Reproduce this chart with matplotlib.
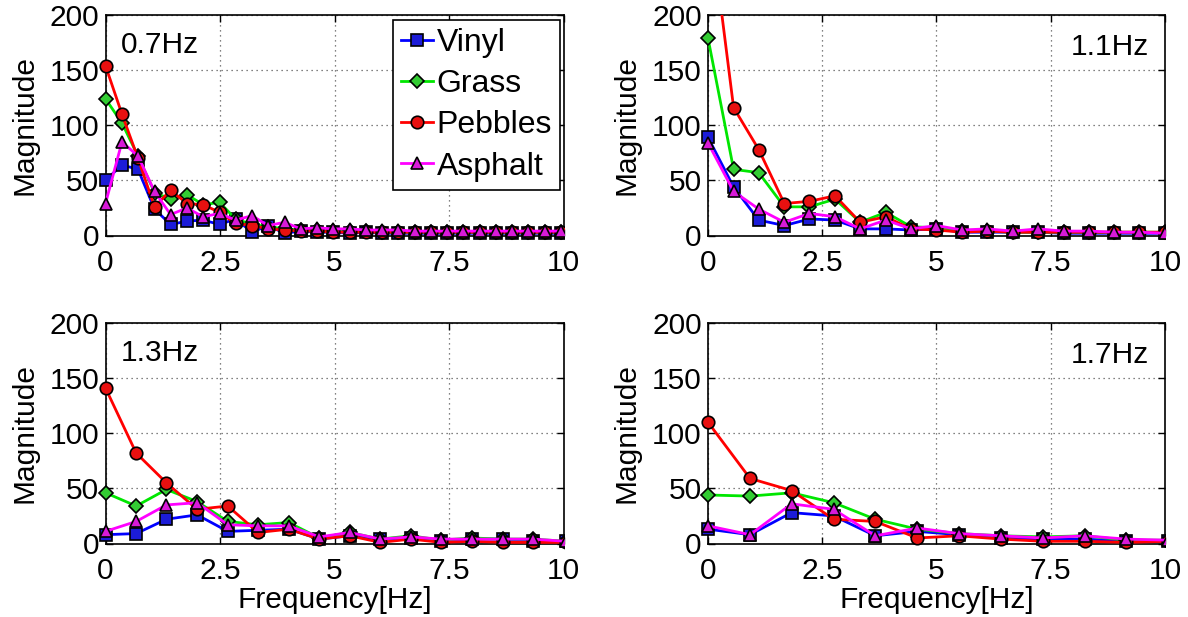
import matplotlib
matplotlib.use("Agg")
import matplotlib.pyplot as plt
from matplotlib.transforms import Bbox, TransformedBbox

plt.rcParams['font.family'] = ['Liberation Sans', 'DejaVu Sans']

series_names = ["Vinyl", "Grass", "Pebbles", "Asphalt"]
panel_titles = ["0.7Hz", "1.1Hz", "1.3Hz", "1.7Hz"]
x_ticks = [0, 2.5, 5, 7.5, 10]
x_tick_labels = ["0", "2.5", "5", "7.5", "10"]
y_ticks = [0, 50, 100, 150, 200]

# Panel 1: 0.7Hz
freq_07 = [0.0, 0.36, 0.71, 1.07, 1.42, 1.78, 2.13, 2.49, 2.84, 3.2, 3.55, 3.91, 4.26,
           4.62, 4.97, 5.33, 5.68, 6.04, 6.39, 6.75, 7.1, 7.46, 7.81, 8.17, 8.52, 8.88,
           9.23, 9.59, 9.94]
vinyl_07 = [50, 64, 60, 24, 10, 13, 14, 10, 15, 3, 9, 2, 4, 3, 3, 2, 3, 2, 2, 2, 2, 2, 2, 2, 2, 2, 2, 2, 2]
grass_07 = [124, 102, 72, 39, 33, 37, 28, 30, 15, 10, 8, 6, 5, 5, 4, 4, 4, 3, 3, 3, 3, 3, 3, 3, 3, 3, 3, 3, 3]
pebbles_07 = [154, 110, 70, 26, 41, 29, 28, 21, 11, 9, 6, 5, 4, 4, 3, 3, 3, 3, 3, 3, 3, 3, 3, 3, 3, 3, 3, 3, 3]
asphalt_07 = [29, 85, 72, 40, 19, 25, 17, 20, 14, 18, 9, 12, 6, 7, 6, 6, 5, 5, 5, 4, 4, 4, 4, 4, 4, 4, 4, 4, 4]

# Panel 2: 1.1Hz
freq_11 = [0.0, 0.56, 1.11, 1.67, 2.22, 2.78, 3.33, 3.89, 4.44, 5.0, 5.56, 6.11, 6.67,
           7.22, 7.78, 8.33, 8.89, 9.44, 10.0]
vinyl_11 = [89, 44, 14, 9, 15, 14, 6, 6, 5, 6, 3, 3, 3, 3, 2, 2, 2, 2, 2]
grass_11 = [179, 60, 57, 26, 26, 33, 12, 21, 8, 7, 4, 4, 3, 3, 3, 3, 3, 3, 3]
pebbles_11 = [300, 116, 78, 29, 31, 36, 12, 17, 6, 5, 3, 4, 3, 3, 3, 3, 3, 3, 3]
asphalt_11 = [84, 40, 24, 12, 20, 17, 6, 14, 6, 9, 5, 6, 4, 6, 4, 4, 3, 3, 2]

# Panel 3: 1.3Hz
freq_13 = [0.0, 0.67, 1.33, 2.0, 2.67, 3.33, 4.0, 4.67, 5.33, 6.0, 6.67, 7.33, 8.0,
           8.67, 9.33, 10.05]
vinyl_13 = [8, 9, 22, 26, 11, 12, 13, 4, 7, 4, 5, 2, 4, 4, 2, 2]
grass_13 = [46, 34, 49, 38, 20, 17, 19, 5, 10, 4, 7, 3, 5, 4, 4, 2]
pebbles_13 = [141, 82, 55, 31, 34, 10, 13, 4, 7, 1, 4, 1, 2, 1, 1, 1]
asphalt_13 = [11, 20, 35, 37, 17, 16, 16, 6, 10, 4, 6, 4, 4, 4, 4, 2]

# Panel 4: 1.7Hz
freq_17 = [0.0, 0.92, 1.83, 2.75, 3.66, 4.58, 5.49, 6.41, 7.32, 8.24, 9.15, 10.07]
vinyl_17 = [13, 8, 28, 25, 7, 11, 8, 5, 4, 4, 2, 2]
grass_17 = [44, 43, 46, 37, 22, 13, 9, 7, 6, 7, 3, 3]
pebbles_17 = [110, 59, 48, 22, 20, 5, 7, 4, 2, 2, 1, 2]
asphalt_17 = [16, 8, 36, 31, 7, 14, 9, 7, 5, 7, 4, 3]

panels = [
    (freq_07, [vinyl_07, grass_07, pebbles_07, asphalt_07]),
    (freq_11, [vinyl_11, grass_11, pebbles_11, asphalt_11]),
    (freq_13, [vinyl_13, grass_13, pebbles_13, asphalt_13]),
    (freq_17, [vinyl_17, grass_17, pebbles_17, asphalt_17]),
]

line_colors = ['#0000ff', '#00e600', '#ff0000', '#ff00ff']
face_colors = ['#1c1cd8', '#33cc33', '#e81010', '#d81ad8']
markers = ['s', 'D', 'o', '^']
msizes = [8, 7.5, 9, 9]

W, H = 1188, 617
fig = plt.figure(figsize=(W / 100, H / 100), dpi=100)

boxes = [(105.5, 15, 563.5, 235.5), (708, 15, 1165, 235.5),
         (105.5, 323, 563.5, 543.5), (708, 323, 1165, 543.5)]

FS = 21.5
for i, ((freq, vals), (l, t, r, b)) in enumerate(zip(panels, boxes)):
    ax = fig.add_axes([l / W, 1 - b / H, (r - l) / W, (b - t) / H])
    clip = TransformedBbox(Bbox([[-0.06, -0.1], [1.0, 1.0]]), ax.transAxes)
    handles = []
    for k, v in enumerate(vals):
        ln, = ax.plot(freq, v, color=line_colors[k], lw=2, marker=markers[k],
                      markersize=msizes[k], markerfacecolor=face_colors[k],
                      markeredgecolor='black', markeredgewidth=1.2,
                      label=series_names[k], zorder=3 + k)
        ln.set_clip_box(clip)
        handles.append(ln)
    ax.set_xlim(0, 10)
    ax.set_ylim(0, 200)
    ax.set_xticks(x_ticks)
    ax.set_xticklabels(x_tick_labels)
    ax.set_yticks(y_ticks)
    ax.grid(True, linestyle=(0, (1, 3)), color='0.35', lw=0.9)
    ax.set_axisbelow(True)
    ax.tick_params(direction='in', top=True, right=True, length=5, width=1,
                   labelsize=FS)
    ax.tick_params(axis='x', pad=10)
    ax.tick_params(axis='y', pad=4.5)
    for sp in ax.spines.values():
        sp.set_linewidth(1.2)
    ax.set_ylabel("Magnitude", fontsize=FS, labelpad=8)
    if i >= 2:
        ax.set_xlabel("Frequency[Hz]", fontsize=FS, labelpad=0.5)
    if i in (0, 2):
        ax.text(0.33, 173, panel_titles[i], fontsize=FS, ha='left', va='center')
    else:
        ax.text(9.65, 171, panel_titles[i], fontsize=FS, ha='right', va='center')
    if i == 0:
        leg = ax.legend(handles=handles, loc='upper right',
                        bbox_to_anchor=(0.992, 0.977), fontsize=23,
                        frameon=True, fancybox=False, framealpha=1,
                        edgecolor='black', handlelength=1.0, handletextpad=0.1,
                        labelspacing=0.35, borderpad=0.25, borderaxespad=0,
                        markerscale=1.0)
        leg.get_frame().set_linewidth(1.2)
        leg.set_zorder(10)

fig.savefig("out.png", dpi=100)
